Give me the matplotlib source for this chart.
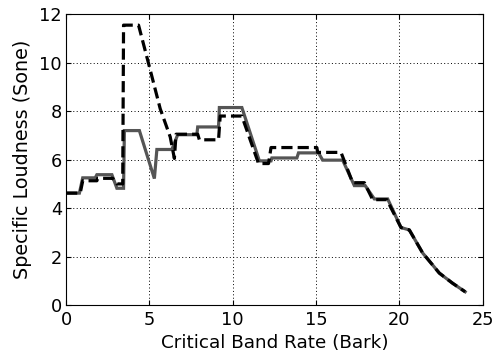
import matplotlib
matplotlib.use('Agg')
import matplotlib.pyplot as plt

plt.rcParams['font.family'] = ['DejaVu Sans']

# solid grey curve
bark_a = [0, 0.8, 1.0, 1.75, 1.85, 2.75, 3.05, 3.45, 3.5, 4.4, 5.3, 5.45, 6.35, 6.7,
          7.85, 7.9, 9.15, 9.2, 10.55, 11.6, 12.3, 12.35, 13.85, 13.95, 15.15, 15.4,
          16.6, 17.3, 17.95, 18.5, 19.3, 20.1, 20.6, 21.4, 22.4, 23.2, 23.95]
sone_a = [4.62, 4.62, 5.25, 5.25, 5.38, 5.38, 4.82, 4.82, 7.2, 7.2, 5.22, 6.42, 6.42, 7.03,
          7.03, 7.35, 7.35, 8.15, 8.15, 5.95, 5.95, 6.07, 6.07, 6.28, 6.28, 5.98,
          5.98, 4.93, 4.93, 4.38, 4.38, 3.2, 3.1, 2.15, 1.32, 0.9, 0.55]

# dashed black curve
bark_b = [0, 0.85, 1.0, 1.85, 1.9, 2.8, 3.05, 3.4, 3.45, 4.35, 4.95, 5.65, 6.25, 6.5, 6.6,
          7.9, 8.0, 9.15, 9.25, 10.55, 11.55, 12.15, 12.3, 15.05, 15.1, 16.5, 17.2,
          17.9, 18.4, 19.25, 20.1, 20.6, 21.4, 22.4, 23.2, 23.95]
sone_b = [4.62, 4.62, 5.13, 5.13, 5.23, 5.23, 5.0, 5.0, 11.55, 11.55, 9.97, 8.1, 6.94, 6.05, 7.05,
          7.05, 6.82, 6.82, 7.8, 7.8, 5.84, 5.84, 6.5, 6.5, 6.3, 6.3, 5.05,
          5.05, 4.35, 4.35, 3.2, 3.1, 2.15, 1.32, 0.9, 0.55]

fig = plt.figure(figsize=(4.93, 3.56), dpi=100)
ax = fig.add_axes([0.134, 0.143, 0.845, 0.817])

ax.plot(bark_a, sone_a, color='#555555', lw=2.3, solid_joinstyle='miter')
ax.plot(bark_b, sone_b, color='black', lw=2.3, dashes=(3.5, 1.6))

ax.set_xlim(0, 25)
ax.set_ylim(0, 12)
ax.set_xticks(range(0, 26, 5))
ax.set_yticks(range(0, 13, 2))
ax.grid(True, color='black', linestyle=(0, (1, 2.5)), linewidth=0.7)
ax.tick_params(direction='in', top=True, right=True, length=3.6, labelsize=12.8)
ax.tick_params(axis='x', pad=4.5)
ax.tick_params(axis='y', pad=3)
for s in ax.spines.values():
    s.set_linewidth(0.8)

ax.set_xlabel('Critical Band Rate (Bark)', fontsize=13.2, labelpad=3)
ax.set_ylabel('Specific Loudness (Sone)', fontsize=13.8, labelpad=5)

fig.savefig('out.png', dpi=100)
